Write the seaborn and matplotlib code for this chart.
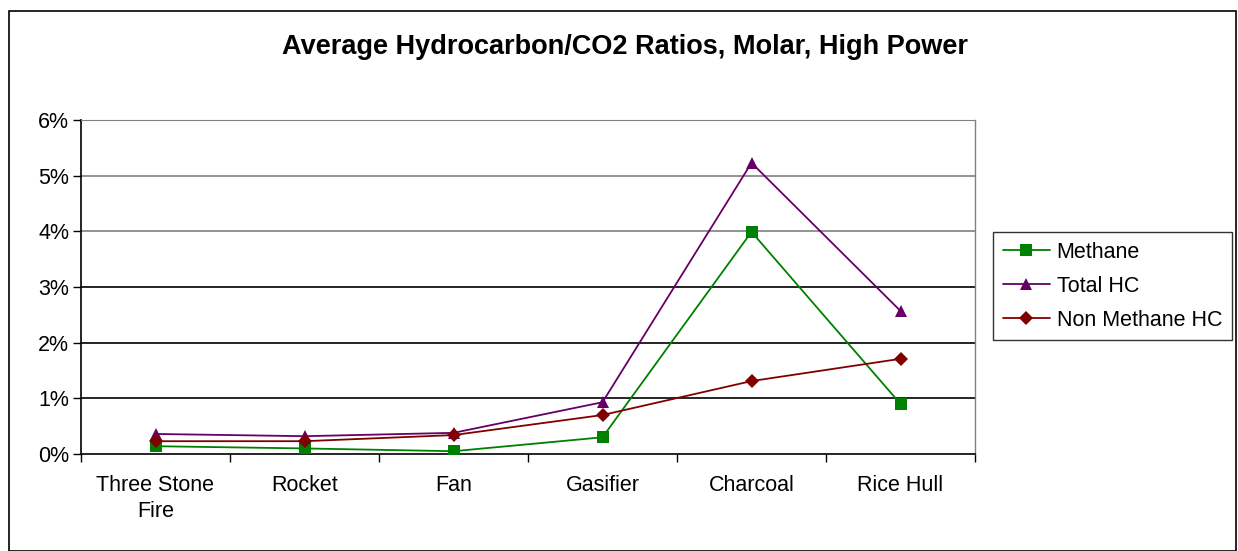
import matplotlib
matplotlib.use("Agg")
import matplotlib.pyplot as plt
from matplotlib.patches import Rectangle
from matplotlib.ticker import FuncFormatter, FixedLocator, NullLocator
import seaborn as sns
import pandas as pd

sns.set_style("white")
plt.rcParams['font.family'] = ['Liberation Sans', 'DejaVu Sans']
plt.rcParams['text.color'] = 'black'
plt.rcParams['xtick.color'] = 'black'
plt.rcParams['ytick.color'] = 'black'

stoves = ['Three Stone\nFire', 'Rocket', 'Fan', 'Gasifier', 'Charcoal', 'Rice Hull']
methane = [0.14, 0.10, 0.05, 0.30, 3.99, 0.90]
total_hc = [0.36, 0.32, 0.38, 0.93, 5.23, 2.57]
non_methane_hc = [0.23, 0.23, 0.34, 0.70, 1.31, 1.71]

series = ['Methane', 'Total HC', 'Non Methane HC']
colors = {'Methane': '#008000', 'Total HC': '#660066', 'Non Methane HC': '#800000'}
marks = {'Methane': 's', 'Total HC': '^', 'Non Methane HC': 'D'}
msize = {'Methane': 8, 'Total HC': 9, 'Non Methane HC': 7}

rows = []
for name, vals in zip(series, [methane, total_hc, non_methane_hc]):
    for i, v in enumerate(vals):
        rows.append({'pos': i, 'stove': stoves[i], 'series': name, 'value': v})
df = pd.DataFrame(rows)

fig = plt.figure(figsize=(12.38, 5.51), dpi=100)
ax = fig.add_axes([81 / 1238, 1 - 454 / 551, (975 - 81) / 1238, (454 - 120) / 551])

for name in series:
    sub = df[df['series'] == name]
    sns.lineplot(data=sub, x='pos', y='value', ax=ax, color=colors[name],
                 marker=marks[name], markersize=msize[name], markeredgewidth=0,
                 linewidth=1.3, label=name, zorder=3)

ax.set_xlim(-0.5, 5.5)
ax.set_ylim(0, 6)
ax.set_xlabel('')
ax.set_ylabel('')

ax.xaxis.set_major_locator(FixedLocator(range(len(stoves))))
ax.set_xticklabels(stoves, fontsize=15.5, linespacing=1.3)
ax.xaxis.set_minor_locator(FixedLocator([i - 0.5 for i in range(len(stoves) + 1)]))
ax.tick_params(axis='x', which='major', length=0, pad=15)
ax.tick_params(axis='x', which='minor', length=6, width=1, color='black', direction='out', bottom=True)

ax.set_yticks(range(0, 7))
ax.yaxis.set_major_formatter(FuncFormatter(lambda v, p: f'{int(v)}%'))
ax.tick_params(axis='y', which='major', length=5.5, width=1, color='black', direction='out', left=True, labelsize=15.5, pad=3)
ax.yaxis.set_minor_locator(NullLocator())

for y in range(1, 7):
    ax.axhline(y, color='black' if y < 4 else '#808080', linewidth=1.2, zorder=1)

for side in ['left', 'bottom']:
    ax.spines[side].set_color('black')
    ax.spines[side].set_linewidth(1.2)
ax.spines['top'].set_color('#808080')
ax.spines['right'].set_color('#808080')
ax.spines['right'].set_linewidth(1)

fig.suptitle('Average Hydrocarbon/CO2 Ratios, Molar, High Power', x=0.505, y=1 - 47 / 551,
             va='center', fontsize=19.5, fontweight='bold')

leg = ax.legend(loc='upper left', bbox_to_anchor=(993 / 1238, 1 - 232 / 551),
                bbox_transform=fig.transFigure, fontsize=15.5, frameon=True,
                fancybox=False, handlelength=2.2, handletextpad=0.3,
                borderpad=0.45, labelspacing=0.6, borderaxespad=0)
leg.get_frame().set_edgecolor('black')
leg.get_frame().set_linewidth(1)

fig.patches.append(Rectangle((9 / 1238, 0), (1236 - 9) / 1238, 1 - 11 / 551,
                             transform=fig.transFigure, fill=False,
                             edgecolor='black', linewidth=1.2))

fig.savefig('out.png', dpi=100)
